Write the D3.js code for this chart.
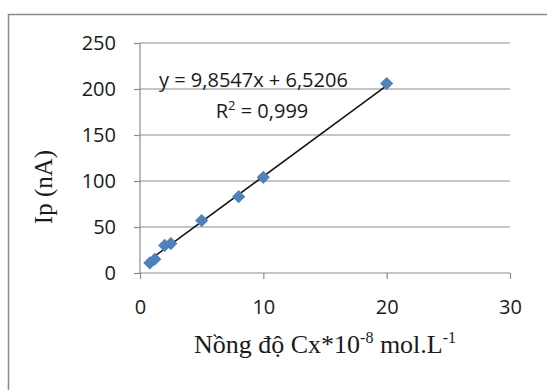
<!DOCTYPE html>
<html>
<head>
<meta charset="utf-8">
<style>
  body { margin: 0; background: #fff; }
  text { font-family: "Open Sans", "Noto Sans", sans-serif; fill: #1a1a1a; }
  .serif { font-family: "Liberation Serif", "Times New Roman", serif; }
</style>
</head>
<body>
<svg width="547" height="390"></svg>
<script src="https://cdn.jsdelivr.net/npm/d3@7/dist/d3.min.js"></script>
<script>
// measured data (concentration x 1e-8 mol/L, peak current nA)
var concX = [0.8, 1.2, 2, 2.5, 5, 8, 10, 20];
var currentY = [11, 15, 30, 32, 57, 83, 104, 206];
var xTicks = [0, 10, 20, 30];
var yTicks = [0, 50, 100, 150, 200, 250];
var slope = 9.8547, intercept = 6.5206;

var svg = d3.select("svg");

// outer chart frame (runs off the right/bottom of the picture)
svg.append("rect")
    .attr("x", 8.5).attr("y", 14.5)
    .attr("width", 560).attr("height", 400)
    .attr("fill", "none").attr("stroke", "#8a8a8a").attr("stroke-width", 1.5);

var x = d3.scaleLinear().domain([0, 30]).range([140, 510]),
    y = d3.scaleLinear().domain([0, 250]).range([273, 43]);

// horizontal gridlines
svg.append("g").selectAll("line")
    .data(yTicks.filter(function(d) { return d > 0; }))
  .enter().append("line")
    .attr("x1", x(0)).attr("x2", x(30))
    .attr("y1", function(d) { return y(d); })
    .attr("y2", function(d) { return y(d); })
    .attr("stroke", "#8c8c8c").attr("stroke-width", 1.2);

var yAxis = svg.append("g")
    .attr("transform", "translate(" + x(0) + ",0)")
    .call(d3.axisLeft(y).tickValues(yTicks).tickSize(6).tickPadding(18));
var xAxis = svg.append("g")
    .attr("transform", "translate(0," + y(0) + ")")
    .call(d3.axisBottom(x).tickValues(xTicks).tickSize(6).tickPadding(21));

[xAxis, yAxis].forEach(function(a) {
  a.select(".domain").attr("stroke", "#8c8c8c").attr("stroke-width", 1.2);
  a.selectAll(".tick line").attr("stroke", "#8c8c8c").attr("stroke-width", 1.2);
  a.selectAll(".tick text").style("font-size", "20px").attr("fill", "#1a1a1a");
});
xAxis.select(".domain").attr("d", "M" + x(0) + ",0H" + x(30));
yAxis.select(".domain").attr("d", "M0," + y(0) + "V" + y(250));

// trendline over the data range
var xr = d3.extent(concX);
svg.append("line")
    .attr("x1", x(xr[0])).attr("y1", y(slope * xr[0] + intercept))
    .attr("x2", x(xr[1])).attr("y2", y(slope * xr[1] + intercept))
    .attr("stroke", "#111").attr("stroke-width", 1.5);

// diamond markers
svg.append("g").selectAll("path")
    .data(concX)
  .enter().append("path")
    .attr("d", d3.symbol().type(d3.symbolDiamond2).size(110))
    .attr("transform", function(d, i) { return "translate(" + x(d) + "," + y(currentY[i]) + ")"; })
    .attr("fill", "#4f81bd");

// equation labels
svg.append("text").attr("x", 159).attr("y", 87)
    .style("font-size", "20px").text("y = 9,8547x + 6,5206");
var r2 = svg.append("text").attr("x", 262).attr("y", 118)
    .attr("text-anchor", "middle").style("font-size", "20px");
r2.append("tspan").text("R");
r2.append("tspan").attr("dy", -8).style("font-size", "13px").text("2");
r2.append("tspan").attr("dy", 8).text(" = 0,999");

// axis titles
svg.append("text").attr("class", "serif")
    .attr("transform", "translate(52,187) rotate(-90)")
    .attr("text-anchor", "middle").style("font-size", "25px").text("Ip (nA)");

var xt = svg.append("text").attr("class", "serif")
    .attr("x", 325).attr("y", 353).attr("text-anchor", "middle").style("font-size", "26px");
xt.append("tspan").text("Nồng độ Cx*10");
xt.append("tspan").attr("dy", -10).style("font-size", "16px").text("-8");
xt.append("tspan").attr("dy", 10).text(" mol.L");
xt.append("tspan").attr("dy", -10).style("font-size", "16px").text("-1");
</script>
</body>
</html>
